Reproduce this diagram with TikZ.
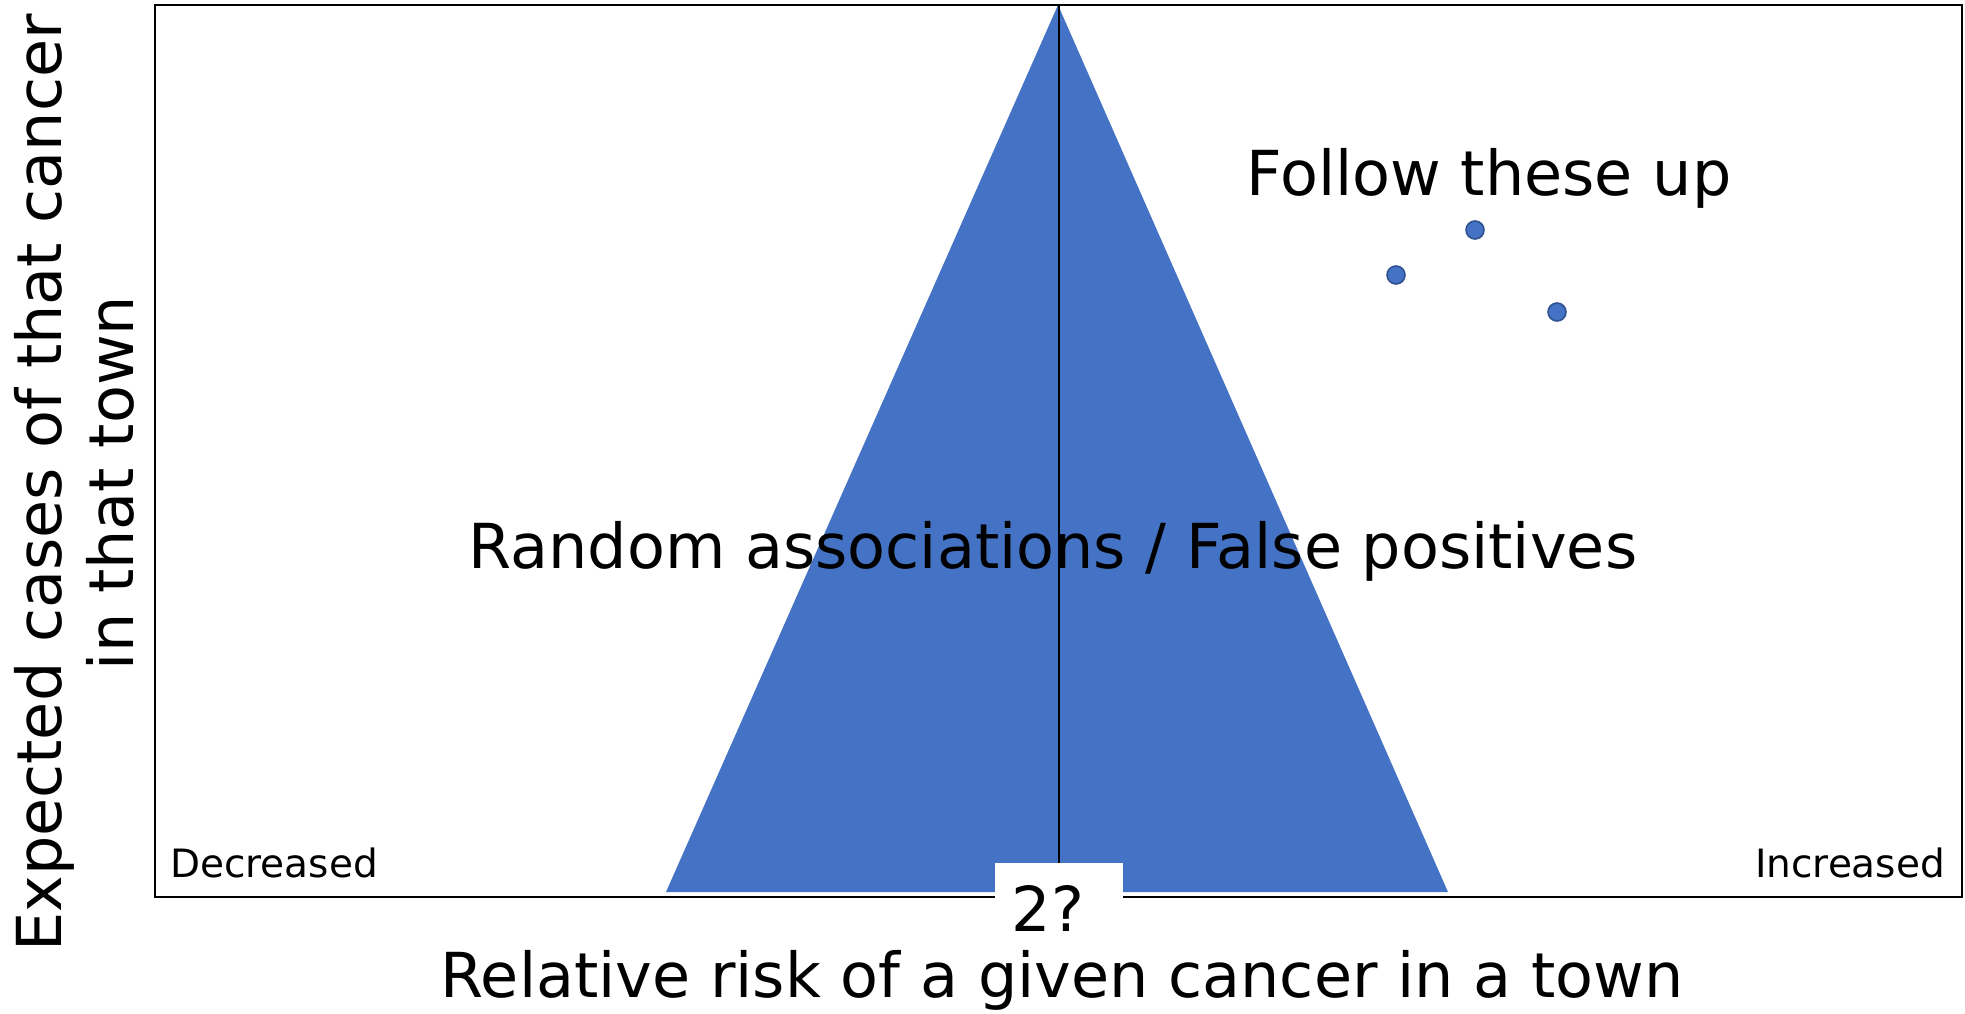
\documentclass[tikz,border=0pt]{standalone}
\usepackage{fontspec}
\setmainfont{DejaVu Sans}
\definecolor{triblue}{HTML}{4472C4}
\definecolor{dotedge}{HTML}{2F528F}
\tikzset{
  bigtext/.style={inner sep=0pt, font=\fontsize{31}{36}\selectfont},
  smalltext/.style={inner sep=0pt, font=\fontsize{19.5}{23}\selectfont},
  dotmark/.style={circle, fill=triblue, draw=dotedge, line width=0.8pt, minimum size=9pt, inner sep=0pt},
}
\begin{document}
\begin{tikzpicture}[x=0.5pt, y=-0.5pt]
\useasboundingbox (0,0) rectangle (1965,1013);
% triangle
\fill[triblue] (1058,5) -- (666,892) -- (1448,892) -- cycle;
% frame
\node[draw=black, line width=1.2pt, inner sep=0pt, minimum width=903.5pt, minimum height=446pt, anchor=north west] (frame) at (154,4) {};
% center line
\coordinate (apex) at (1059,5);
\coordinate (lineend) at (1059,863);
\draw[line width=1.3pt] (apex) -- (lineend);
% white label box
\node[fill=white, inner sep=0pt, minimum width=64pt, minimum height=42pt, anchor=north west] (box) at (995,863) {};
\node[bigtext, anchor=base] (two) at (1048,931) {2?};
% texts
\node[bigtext, anchor=base] (xlabel) at (1062,997) {Relative risk of a given cancer in a town};
\node[bigtext, anchor=base] (random) at (1053,568) {Random associations / False positives};
\node[bigtext, anchor=base] (follow) at (1489,195) {Follow these up};
\node[smalltext, anchor=base] (dec) at (274,877) {Decreased};
\node[smalltext, anchor=base] (inc) at (1850,877) {Increased};
\node[bigtext, rotate=90, align=center, font=\fontsize{31}{36}\selectfont] (ylabel) at (74,483) {Expected cases of that cancer\\in that town};
% dots
\node[dotmark] (d1) at (1475,230) {};
\node[dotmark] (d2) at (1396,275) {};
\node[dotmark] (d3) at (1557,312) {};
\end{tikzpicture}
\end{document}
